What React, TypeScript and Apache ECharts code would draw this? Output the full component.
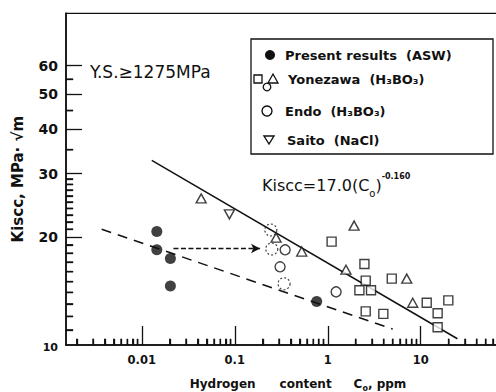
import React, { useEffect, useRef } from 'react';
import * as echarts from 'echarts';

// ---- axis ranges ----
const X_MIN = 0.001535;
const X_MAX = 64.5;
const Y_MIN = 10;
const Y_MAX = 84;
// axis bounds a hair outside the frame values, so marks standing on the frame stay inside the range
const X_AXIS_MIN = 0.00153;
const Y_AXIS_MIN = 9.99;

// ---- tick labels ----
const X_LABEL_VALUES = [0.01, 0.1, 1, 10];
const X_LABELS = ['0.01', '0.1', '1', '10'];
const Y_LABEL_VALUES = [10, 20, 30, 40, 50, 60];
const Y_LABELS = ['10', '20', '30', '40', '50', '60'];

// ---- tick marks ----
const X_MAJOR_TICKS = [0.01, 0.1, 1, 10];
const X_MINOR_TICKS = [
  0.002, 0.003, 0.004, 0.005, 0.006, 0.007, 0.008, 0.009,
  0.02, 0.03, 0.04, 0.05, 0.06, 0.07, 0.08, 0.09,
  0.2, 0.3, 0.4, 0.5, 0.6, 0.7, 0.8, 0.9,
  2, 3, 4, 5, 6, 7, 8, 9,
  20, 30, 40, 50, 60,
];
const Y_MAJOR_TICKS = [20, 30, 40, 50, 60];
const Y_MINOR_TICKS = [11, 12, 13, 14, 15, 16, 17, 18, 19, 21, 22, 23, 24, 25, 26, 27, 28, 29, 35, 45, 55];

// ---- data ----
const PRESENT_X = [0.0145, 0.0145, 0.0203, 0.0203, 0.76];
const PRESENT_Y = [20.7, 18.4, 17.4, 14.6, 13.2];

const YONEZAWA_SQ_X = [1.1, 2.48, 2.56, 2.19, 2.92, 2.56, 3.96, 4.88, 11.6, 19.8, 15.2, 15.2];
const YONEZAWA_SQ_Y = [19.4, 16.8, 15.1, 14.2, 14.2, 12.4, 12.2, 15.3, 13.1, 13.3, 12.25, 11.2];

const YONEZAWA_TRI_X = [0.0435, 0.278, 0.525, 1.92, 1.57, 7.07, 8.2];
const YONEZAWA_TRI_Y = [25.6, 19.9, 18.2, 21.5, 16.2, 15.3, 13.1];

const ENDO_X = [0.348, 0.307, 1.23];
const ENDO_Y = [18.4, 16.5, 14.05];

const SAITO_X = [0.0875];
const SAITO_Y = [23.1];

const DOTTED_X = [0.244, 0.25, 0.339];
const DOTTED_Y = [20.9, 18.5, 14.8];

const FIT_X = [0.0128, 24.8];
const FIT_Y = [32.7, 10.4];

const ASW_FIT_X = [0.0037, 5.0];
const ASW_FIT_Y = [21.0, 11.06];

const ARROW_X = [0.0219, 0.187];
const ARROW_Y = [18.56, 18.56];

const INK = '#111';
const FONT = '"DejaVu Sans", sans-serif';

const GRID_LEFT = 66;
const GRID_TOP = 13.3;
const GRID_BOTTOM = 47;
const W = 496;
const H = 392;

const zip = (xs: number[], ys: number[]) => xs.map((x, i) => [x, ys[i]]);

const labelFor = (vals: number[], labels: string[], v: number) => {
  let best = 0;
  let bd = Infinity;
  vals.forEach((t, i) => {
    const d = Math.abs(Math.log10(t) - Math.log10(v));
    if (d < bd) {
      bd = d;
      best = i;
    }
  });
  return labels[best];
};

export default function App() {
  const ref = useRef<HTMLDivElement>(null);

  useEffect(() => {
    if (!ref.current) return;
    const chart = echarts.init(ref.current, null, { renderer: 'svg' });

    const markerStyle = { color: '#fff', borderColor: INK, borderWidth: 1.4 };
    const tickLine = { color: INK, width: 1.3 };
    const gridBox = { left: GRID_LEFT, right: 0, top: GRID_TOP, bottom: GRID_BOTTOM, outerBoundsMode: 'none', containLabel: false };

    const baseGraphic: any[] = [
      // top frame line
      {
        type: 'line',
        silent: true,
        shape: { x1: GRID_LEFT, y1: GRID_TOP, x2: W, y2: GRID_TOP },
        style: { stroke: INK, lineWidth: 1.2 },
      },
      {
        type: 'text',
        x: 90,
        y: 72,
        silent: true,
        style: { text: 'Y.S.≥1275MPa', fontSize: 17, fontFamily: FONT, fill: INK, verticalAlign: 'middle' },
      },
      {
        type: 'text',
        x: 262,
        y: 185,
        silent: true,
        style: {
          text: '{a|Kiscc=17.0(C}{s|o}{a|)}{p|-0.160}',
          verticalAlign: 'middle',
          rich: {
            a: { fontSize: 16, fontFamily: FONT, fill: INK, lineHeight: 20 },
            s: { fontSize: 10, fontFamily: FONT, fill: INK, verticalAlign: 'bottom', lineHeight: 18 },
            p: { fontSize: 8, fontWeight: 'bold', fontFamily: FONT, fill: INK, verticalAlign: 'top', lineHeight: 26 },
          },
        },
      },
      // legend box
      {
        type: 'rect',
        silent: true,
        shape: { x: 251, y: 39, width: 242, height: 115 },
        style: { fill: '#fff', stroke: INK, lineWidth: 1.3 },
        z: 10,
      },
      { type: 'circle', silent: true, z: 11, shape: { cx: 270, cy: 55, r: 5 }, style: { fill: INK } },
      {
        type: 'text', silent: true, z: 11, x: 285, y: 55,
        style: { text: 'Present results  (ASW)', fontSize: 13, fontWeight: 'bold', fontFamily: FONT, fill: INK, verticalAlign: 'middle' },
      },
      { type: 'rect', silent: true, z: 11, shape: { x: 254, y: 75, width: 8, height: 8 }, style: { fill: '#fff', stroke: INK, lineWidth: 1.3 } },
      { type: 'polygon', silent: true, z: 11, shape: { points: [[273, 74], [278, 83], [268, 83]] }, style: { fill: '#fff', stroke: INK, lineWidth: 1.3 } },
      { type: 'circle', silent: true, z: 11, shape: { cx: 267, cy: 87, r: 3.8 }, style: { fill: '#fff', stroke: INK, lineWidth: 1.3 } },
      {
        type: 'text', silent: true, z: 11, x: 288, y: 79,
        style: { text: 'Yonezawa  (H₃BO₃)', fontSize: 13, fontWeight: 'bold', fontFamily: FONT, fill: INK, verticalAlign: 'middle' },
      },
      { type: 'circle', silent: true, z: 11, shape: { cx: 267, cy: 111, r: 5 }, style: { fill: '#fff', stroke: INK, lineWidth: 1.4 } },
      {
        type: 'text', silent: true, z: 11, x: 285, y: 111,
        style: { text: 'Endo  (H₃BO₃)', fontSize: 13, fontWeight: 'bold', fontFamily: FONT, fill: INK, verticalAlign: 'middle' },
      },
      { type: 'polygon', silent: true, z: 11, shape: { points: [[264, 136], [274, 136], [269, 144]] }, style: { fill: '#fff', stroke: INK, lineWidth: 1.4 } },
      {
        type: 'text', silent: true, z: 11, x: 287, y: 140,
        style: { text: 'Saito  (NaCl)', fontSize: 13, fontWeight: 'bold', fontFamily: FONT, fill: INK, verticalAlign: 'middle' },
      },
    ];

    const option: any = {
      animation: false,
      backgroundColor: '#fff',
      textStyle: { fontFamily: FONT, color: INK },
      grid: [gridBox, { ...gridBox }],
      xAxis: [
        {
          gridIndex: 0,
          type: 'log',
          logBase: 10,
          min: X_AXIS_MIN,
          max: X_MAX,
          position: 'bottom',
          axisLine: { show: true, lineStyle: { color: INK, width: 1.5 } },
          axisTick: { show: true, customValues: X_MAJOR_TICKS, inside: true, length: 19, lineStyle: tickLine },
          splitLine: { show: false },
          axisLabel: {
            customValues: X_LABEL_VALUES,
            formatter: (v: number) => labelFor(X_LABEL_VALUES, X_LABELS, v),
            margin: 9,
            fontSize: 11.5,
            fontWeight: 'bold',
            fontFamily: FONT,
            color: INK,
          },
          name: '{pad|}{a|Hydrogen}{g|}{a|content}{g2|}{a|C}{s|o}{a|, ppm}',
          nameLocation: 'middle',
          nameGap: 31,
          nameTextStyle: {
            rich: {
              a: { fontSize: 12, fontWeight: 'bold', fontFamily: FONT, color: INK, lineHeight: 16 },
              s: { fontSize: 8, fontWeight: 'bold', fontFamily: FONT, color: INK, verticalAlign: 'bottom', lineHeight: 15 },
              pad: { width: 34 },
              g: { width: 24 },
              g2: { width: 22 },
            },
          },
        },
        {
          // second, overlapping frame: carries the minor ticks
          gridIndex: 1,
          type: 'log',
          logBase: 10,
          min: X_AXIS_MIN,
          max: X_MAX,
          position: 'bottom',
          axisLine: { show: true, lineStyle: { color: INK, width: 1.5 } },
          axisTick: { show: true, customValues: X_MINOR_TICKS, inside: true, length: 6, lineStyle: tickLine },
          axisLabel: { show: true, customValues: X_LABEL_VALUES, formatter: () => '', color: 'rgba(0,0,0,0)' },
          splitLine: { show: false },
        },
      ],
      yAxis: [
        {
          gridIndex: 0,
          type: 'log',
          logBase: 10,
          min: Y_AXIS_MIN,
          max: Y_MAX,
          position: 'left',
          axisLine: { show: true, lineStyle: { color: INK, width: 1.5 } },
          axisTick: { show: true, customValues: Y_MAJOR_TICKS, inside: true, length: 16, lineStyle: tickLine },
          splitLine: { show: false },
          axisLabel: {
            customValues: Y_LABEL_VALUES,
            formatter: (v: number) => {
              const s = labelFor(Y_LABEL_VALUES, Y_LABELS, v);
              return s === '10' ? '{s|' + s + '}' : s;
            },
            margin: 8,
            fontSize: 14,
            fontWeight: 'bold',
            fontFamily: FONT,
            color: INK,
            rich: { s: { fontSize: 11, fontWeight: 'bold', fontFamily: FONT, color: INK, padding: [6, 0, 0, 0] } },
          },
          name: 'Kiscc, MPa· √m',
          nameLocation: 'middle',
          nameGap: 41,
          nameTextStyle: { fontSize: 15, fontWeight: 'bold', fontFamily: FONT, color: INK },
        },
        {
          gridIndex: 1,
          type: 'log',
          logBase: 10,
          min: Y_AXIS_MIN,
          max: Y_MAX,
          position: 'left',
          axisLine: { show: true, lineStyle: { color: INK, width: 1.5 } },
          axisTick: { show: true, customValues: Y_MINOR_TICKS, inside: true, length: 7, lineStyle: tickLine },
          axisLabel: { show: true, customValues: Y_LABEL_VALUES, formatter: () => '', color: 'rgba(0,0,0,0)' },
          splitLine: { show: false },
        },
      ],
      series: [
        // minor ticks as thin bars standing on the bottom frame
        {
          type: 'scatter',
          silent: true,
          data: X_MINOR_TICKS.map((v) => [v, Y_MIN]),
          symbol: 'rect',
          symbolSize: [1.3, 6],
          symbolOffset: [0, -3],
          itemStyle: { color: INK },
          z: 1,
        },
        // minor ticks on the left frame
        {
          type: 'scatter',
          silent: true,
          data: Y_MINOR_TICKS.map((v) => [X_MIN, v]),
          symbol: 'rect',
          symbolSize: [7, 1.3],
          symbolOffset: [3.5, 0],
          itemStyle: { color: INK },
          z: 1,
        },
        {
          type: 'line',
          data: zip(FIT_X, FIT_Y),
          symbol: 'none',
          lineStyle: { color: INK, width: 1.5 },
          z: 2,
          silent: true,
        },
        {
          type: 'line',
          data: zip(ASW_FIT_X, ASW_FIT_Y),
          symbol: 'none',
          lineStyle: { color: INK, width: 1.5, type: [10, 7] },
          z: 2,
          silent: true,
        },
        {
          type: 'scatter',
          data: [],
          silent: true,
          markLine: {
            silent: true,
            symbol: ['none', 'arrow'],
            symbolSize: [7, 9],
            label: { show: false },
            lineStyle: { color: INK, width: 1.4, type: [5, 2.5] },
            data: [[{ coord: [ARROW_X[0], ARROW_Y[0]] }, { coord: [ARROW_X[1], ARROW_Y[1]] }]],
          },
        },
        {
          type: 'scatter',
          xAxisIndex: 1,
          yAxisIndex: 1,
          data: zip(DOTTED_X, DOTTED_Y),
          symbol: 'circle',
          symbolSize: 12,
          itemStyle: { color: 'rgba(255,255,255,0)', borderColor: INK, borderWidth: 1.2, borderType: [2, 2] },
          z: 3,
        },
        {
          type: 'scatter',
          name: 'Yonezawa squares',
          data: zip(YONEZAWA_SQ_X, YONEZAWA_SQ_Y),
          symbol: 'rect',
          symbolSize: 9,
          itemStyle: markerStyle,
          z: 4,
        },
        {
          type: 'scatter',
          name: 'Yonezawa triangles',
          data: zip(YONEZAWA_TRI_X, YONEZAWA_TRI_Y),
          symbol: 'triangle',
          symbolSize: [10, 9],
          itemStyle: markerStyle,
          z: 4,
        },
        {
          type: 'scatter',
          name: 'Endo',
          data: zip(ENDO_X, ENDO_Y),
          symbol: 'circle',
          symbolSize: 10,
          itemStyle: markerStyle,
          z: 4,
        },
        {
          type: 'scatter',
          name: 'Saito',
          data: zip(SAITO_X, SAITO_Y),
          symbol: 'triangle',
          symbolRotate: 180,
          symbolSize: [10, 9],
          itemStyle: markerStyle,
          z: 4,
        },
        {
          type: 'scatter',
          name: 'Present results',
          data: zip(PRESENT_X, PRESENT_Y),
          symbol: 'circle',
          symbolSize: 11,
          itemStyle: { color: INK },
          z: 5,
        },
      ],
      graphic: baseGraphic,
    };

    chart.setOption(option);

    // minor ticks again as plain lines, positioned through the chart's own log scales
    const toPx = (pt: number[]) => {
      let p: any = null;
      try {
        p = chart.convertToPixel({ xAxisIndex: 0, yAxisIndex: 0 } as any, pt);
      } catch (e) {
        p = null;
      }
      if (!p || !isFinite(p[0]) || !isFinite(p[1])) {
        try {
          p = chart.convertToPixel({ seriesIndex: 2 } as any, pt);
        } catch (e) {
          p = null;
        }
      }
      return p && isFinite(p[0]) && isFinite(p[1]) ? p : null;
    };
    const tickEls: any[] = [];
    X_MINOR_TICKS.forEach((v) => {
      const p = toPx([v, Y_MIN]);
      if (p) {
        tickEls.push({
          type: 'line',
          silent: true,
          z: 5,
          shape: { x1: p[0], y1: p[1], x2: p[0], y2: p[1] - 6 },
          style: { stroke: INK, lineWidth: 1.3 },
        });
      }
    });
    Y_MINOR_TICKS.forEach((v) => {
      const p = toPx([X_MIN, v]);
      if (p) {
        tickEls.push({
          type: 'line',
          silent: true,
          z: 5,
          shape: { x1: p[0], y1: p[1], x2: p[0] + 7, y2: p[1] },
          style: { stroke: INK, lineWidth: 1.3 },
        });
      }
    });
    if (tickEls.length) {
      chart.setOption({ graphic: [...baseGraphic, ...tickEls] });
    }

    return () => chart.dispose();
  }, []);

  return (
    <div
      ref={ref}
      style={{ position: 'fixed', left: 0, top: 0, width: W, height: H, background: '#fff' }}
    />
  );
}
